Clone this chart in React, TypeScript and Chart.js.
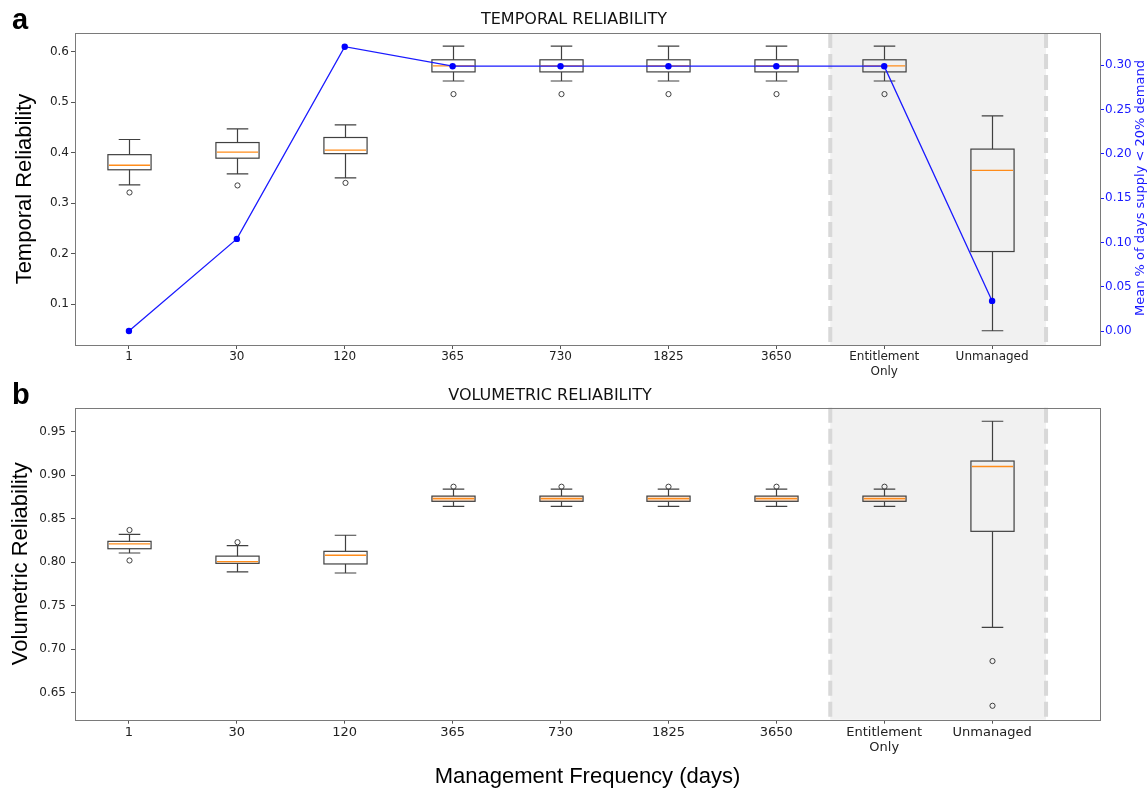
import React, { useEffect, useRef } from 'react';
import { Chart, registerables } from 'chart.js';
Chart.register(...registerables);

// ---------- data ----------
const categories: (string | string[])[] = ['1', '30', '120', '365', '730', '1825', '3650', ['Entitlement', 'Only'], 'Unmanaged'];

// Temporal reliability box statistics
const temporalWhiskerLow = [0.336, 0.358, 0.350, 0.542, 0.542, 0.542, 0.542, 0.542, 0.047];
const temporalQ1 = [0.366, 0.389, 0.398, 0.560, 0.560, 0.560, 0.560, 0.560, 0.204];
const temporalMedian = [0.375, 0.401, 0.405, 0.572, 0.572, 0.572, 0.572, 0.572, 0.365];
const temporalQ3 = [0.396, 0.420, 0.430, 0.584, 0.584, 0.584, 0.584, 0.584, 0.407];
const temporalWhiskerHigh = [0.426, 0.447, 0.455, 0.611, 0.611, 0.611, 0.611, 0.611, 0.473];
const temporalOutliers = [[0.321], [0.335], [0.340], [0.516], [0.516], [0.516], [0.516], [0.516], []];

// Mean % of days supply < 20% demand (right axis)
const shortfallDays = [0.000, 0.104, 0.321, 0.299, 0.299, 0.299, 0.299, 0.299, 0.034];

// Volumetric reliability box statistics
const volWhiskerLow = [0.8106, 0.789, 0.7876, 0.8643, 0.8643, 0.8643, 0.8643, 0.8643, 0.725];
const volQ1 = [0.8155, 0.7987, 0.798, 0.870, 0.870, 0.870, 0.870, 0.870, 0.8355];
const volMedian = [0.821, 0.8006, 0.808, 0.873, 0.873, 0.873, 0.873, 0.873, 0.910];
const volQ3 = [0.824, 0.807, 0.8125, 0.876, 0.876, 0.876, 0.876, 0.876, 0.9163];
const volWhiskerHigh = [0.832, 0.819, 0.831, 0.884, 0.884, 0.884, 0.884, 0.884, 0.962];
const volOutliers = [[0.837, 0.802], [0.823], [], [0.8868], [0.8868], [0.8868], [0.8868], [0.8868], [0.6864, 0.635]];

const temporalTicks = [0.1, 0.2, 0.3, 0.4, 0.5, 0.6];
const shortfallTicks = [0.0, 0.05, 0.10, 0.15, 0.20, 0.25, 0.30];
const volTicks = [0.65, 0.70, 0.75, 0.80, 0.85, 0.90, 0.95];
const shadedRange = [6.5, 8.5];

// ---------- helpers ----------
const TICK_FONT = 'DejaVu Sans';
const LABEL_FONT = '"Liberation Sans", Arial, sans-serif';

type BoxData = { lo: number[]; q1: number[]; med: number[]; q3: number[]; hi: number[]; out: number[][] };

function makeBoxPlugin(box: BoxData, letter: string, letterY: number, rightTitle?: string) {
  return {
    id: 'boxplot-' + letter,
    beforeDatasetsDraw(chart: any) {
      const { ctx, chartArea } = chart;
      const xs = chart.scales.x;
      const ys = chart.scales.y;
      ctx.save();
      // shaded region with dashed borders
      const sx0 = xs.getPixelForValue(shadedRange[0]);
      const sx1 = xs.getPixelForValue(shadedRange[1]);
      ctx.fillStyle = '#f1f1f1';
      ctx.fillRect(sx0, chartArea.top, sx1 - sx0, chartArea.bottom - chartArea.top);
      ctx.strokeStyle = '#d8d8d8';
      ctx.lineWidth = 4;
      ctx.setLineDash([15, 6]);
      [sx0, sx1].forEach((x) => {
        ctx.beginPath();
        ctx.moveTo(x, chartArea.top);
        ctx.lineTo(x, chartArea.bottom);
        ctx.stroke();
      });
      ctx.setLineDash([]);
      // boxes
      const halfBox = xs.getPixelForValue(0.2) - xs.getPixelForValue(0);
      const halfCap = xs.getPixelForValue(0.1) - xs.getPixelForValue(0);
      for (let i = 0; i < box.med.length; i++) {
        const cx = Math.round(xs.getPixelForValue(i)) + 0.5;
        const yLo = ys.getPixelForValue(box.lo[i]);
        const yQ1 = ys.getPixelForValue(box.q1[i]);
        const yMed = ys.getPixelForValue(box.med[i]);
        const yQ3 = ys.getPixelForValue(box.q3[i]);
        const yHi = ys.getPixelForValue(box.hi[i]);
        ctx.strokeStyle = '#404040';
        ctx.lineWidth = 1.2;
        // whiskers
        ctx.beginPath();
        ctx.moveTo(cx, yQ3); ctx.lineTo(cx, yHi);
        ctx.moveTo(cx, yQ1); ctx.lineTo(cx, yLo);
        ctx.moveTo(cx - halfCap, yHi); ctx.lineTo(cx + halfCap, yHi);
        ctx.moveTo(cx - halfCap, yLo); ctx.lineTo(cx + halfCap, yLo);
        ctx.stroke();
        // box
        const h = yQ1 - yQ3;
        if (h < 6) {
          ctx.fillStyle = '#fbd9bd';
          ctx.fillRect(cx - halfBox, yQ3, 2 * halfBox, h);
        }
        ctx.strokeRect(cx - halfBox, yQ3, 2 * halfBox, h);
        // median
        ctx.strokeStyle = '#ff8c1a';
        ctx.lineWidth = 1.3;
        ctx.beginPath();
        ctx.moveTo(cx - halfBox + 1, yMed);
        ctx.lineTo(cx + halfBox - 1, yMed);
        ctx.stroke();
        // outliers
        ctx.strokeStyle = '#404040';
        ctx.lineWidth = 1;
        box.out[i].forEach((v) => {
          ctx.beginPath();
          ctx.arc(cx, ys.getPixelForValue(v), 2.6, 0, Math.PI * 2);
          ctx.stroke();
        });
      }
      ctx.restore();
    },
    afterDraw(chart: any) {
      const { ctx, chartArea } = chart;
      ctx.save();
      ctx.strokeStyle = '#7a7a7a';
      ctx.lineWidth = 1;
      const l = Math.round(chartArea.left) + 0.5;
      const t = Math.round(chartArea.top) + 0.5;
      const r = Math.round(chartArea.right) + 0.5;
      const b = Math.round(chartArea.bottom) + 0.5;
      ctx.strokeRect(l, t, r - l, b - t);
      ctx.fillStyle = '#000';
      ctx.font = 'bold 29px ' + LABEL_FONT;
      ctx.textAlign = 'left';
      ctx.textBaseline = 'alphabetic';
      ctx.fillText(letter, 12, letterY);
      if (rightTitle) {
        ctx.translate(1141, (chartArea.top + chartArea.bottom) / 2 - 1);
        ctx.rotate(-Math.PI / 2);
        ctx.font = '13px ' + TICK_FONT;
        ctx.fillStyle = '#1a1aff';
        ctx.textAlign = 'center';
        ctx.textBaseline = 'middle';
        ctx.fillText(rightTitle, 0, 0);
      }
      ctx.restore();
    },
  };
}

function xScale(height: number, fontSize: number, title?: string) {
  return {
    type: 'linear',
    min: -0.5,
    max: 9,
    afterBuildTicks: (s: any) => { s.ticks = categories.map((_, i) => ({ value: i })); },
    afterFit: (s: any) => { s.height = height; },
    ticks: {
      callback: (_v: any, i: number) => categories[i],
      autoSkip: false, maxRotation: 0, minRotation: 0,
      color: '#222', font: { family: TICK_FONT, size: fontSize }, padding: 1,
    },
    grid: { display: true, drawOnChartArea: false, drawTicks: true, tickLength: 4, color: '#555' },
    border: { display: false },
    title: title
      ? { display: true, text: title, color: '#000', font: { family: LABEL_FONT, size: 22 }, padding: { top: 4, bottom: 1 } }
      : { display: false },
  };
}

function yScale(min: number, max: number, ticks: number[], digits: number, title: string, titlePad: number, labPad: number) {
  return {
    type: 'linear',
    position: 'left',
    min, max,
    afterBuildTicks: (s: any) => { s.ticks = ticks.map((v) => ({ value: v })); },
    afterFit: (s: any) => { s.width = 75; },
    ticks: { callback: (v: number) => v.toFixed(digits), color: '#222', font: { family: TICK_FONT, size: 12 }, padding: labPad },
    grid: { display: true, drawOnChartArea: false, drawTicks: true, tickLength: 4, color: '#555' },
    border: { display: false },
    title: { display: true, text: title, color: '#000', font: { family: LABEL_FONT, size: 22 }, padding: { top: titlePad, bottom: 0 } },
  };
}

export default function App() {
  const refA = useRef<HTMLCanvasElement>(null);
  const refB = useRef<HTMLCanvasElement>(null);

  useEffect(() => {
    Chart.defaults.font.family = TICK_FONT;
    const chartA = new Chart(refA.current as HTMLCanvasElement, {
      type: 'line',
      data: {
        datasets: [{
          data: shortfallDays.map((v, i) => ({ x: i, y: v })),
          yAxisID: 'y1',
          borderColor: '#1a1aff',
          backgroundColor: '#0000ff',
          borderWidth: 1.3,
          pointRadius: 3.2,
          pointBorderWidth: 0,
          pointBackgroundColor: '#0000ff',
          tension: 0,
        }],
      },
      options: {
        responsive: false,
        animation: false,
        devicePixelRatio: 1,
        layout: { padding: 0 },
        plugins: {
          legend: { display: false },
          tooltip: { enabled: false },
          title: {
            display: true, text: 'TEMPORAL RELIABILITY', color: '#111',
            font: { family: TICK_FONT, size: 16, weight: 'normal' },
            padding: { top: 10.4, bottom: 3.4 },
          },
        },
        scales: {
          x: xScale(35, 12),
          y: yScale(0.01875, 0.6371, temporalTicks, 1, 'Temporal Reliability', 12, 2),
          y1: {
            type: 'linear', position: 'right', min: -0.0158, max: 0.3365,
            afterBuildTicks: (s: any) => { s.ticks = shortfallTicks.map((v) => ({ value: v })); },
            afterFit: (s: any) => { s.width = 48; },
            ticks: { callback: (v: number) => v.toFixed(2), color: '#1a1aff', font: { family: TICK_FONT, size: 12 }, padding: 1 },
            grid: { display: true, drawOnChartArea: false, drawTicks: true, tickLength: 4, color: '#1a1aff' },
            border: { display: false },
          },
        },
      } as any,
      plugins: [makeBoxPlugin({ lo: temporalWhiskerLow, q1: temporalQ1, med: temporalMedian, q3: temporalQ3, hi: temporalWhiskerHigh, out: temporalOutliers }, 'a', 29, 'Mean % of days supply < 20% demand')],
    } as any);

    const chartB = new Chart(refB.current as HTMLCanvasElement, {
      type: 'line',
      data: { datasets: [] },
      options: {
        responsive: false,
        animation: false,
        devicePixelRatio: 1,
        layout: { padding: { right: 48 } },
        plugins: {
          legend: { display: false },
          tooltip: { enabled: false },
          title: {
            display: true, text: 'VOLUMETRIC RELIABILITY', color: '#111',
            font: { family: TICK_FONT, size: 16, weight: 'normal' },
            padding: { top: 5.9, bottom: 2.6 },
          },
        },
        scales: {
          x: xScale(71.3, 13, 'Management Frequency (days)'),
          y: yScale(0.619, 0.9776, volTicks, 2, 'Volumetric Reliability', 8, 5),
        },
      } as any,
      plugins: [makeBoxPlugin({ lo: volWhiskerLow, q1: volQ1, med: volMedian, q3: volQ3, hi: volWhiskerHigh, out: volOutliers }, 'b', 24)],
    } as any);

    return () => { chartA.destroy(); chartB.destroy(); };
  }, []);

  return (
    <div style={{ position: 'absolute', left: 0, top: 0, width: 1148, height: 791, background: '#fff' }}>
      <canvas ref={refA} width={1148} height={380} style={{ position: 'absolute', left: 0, top: 0 }} />
      <canvas ref={refB} width={1148} height={411} style={{ position: 'absolute', left: 0, top: 380 }} />
    </div>
  );
}
